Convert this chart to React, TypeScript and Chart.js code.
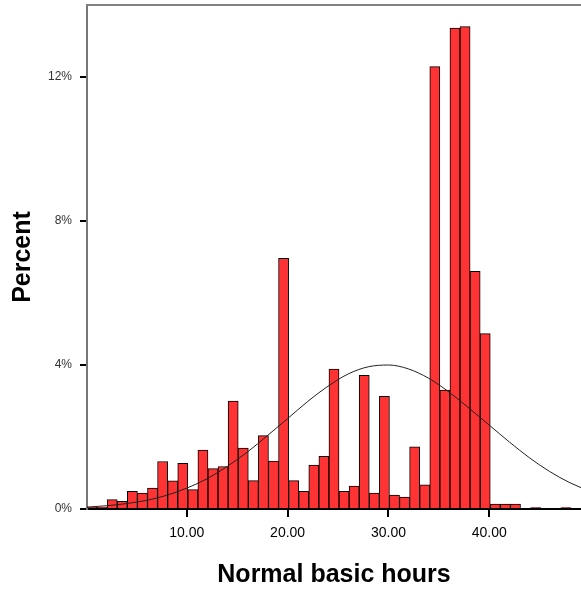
import React, { useEffect, useRef } from "react";
import { Chart, registerables } from "chart.js";

Chart.register(...registerables);

// Histogram bins (bin centres, hours) and their percentages
const binHours = [
  0.6, 1.6, 2.6, 3.6, 4.6, 5.6, 6.6, 7.6, 8.6, 9.6,
  10.6, 11.6, 12.6, 13.6, 14.6, 15.6, 16.6, 17.6, 18.6, 19.6,
  20.6, 21.6, 22.6, 23.6, 24.6, 25.6, 26.6, 27.6, 28.6, 29.6,
  30.6, 31.6, 32.6, 33.6, 34.6, 35.6, 36.6, 37.6, 38.6, 39.6,
  40.6, 41.6, 42.6, 43.6, 44.6, 45.6, 46.6, 47.6, 48.6,
];
const binPercent = [
  0.05, 0.05, 0.26, 0.21, 0.49, 0.44, 0.58, 1.32, 0.78, 1.27,
  0.54, 1.64, 1.12, 1.18, 3.0, 1.69, 0.79, 2.04, 1.33, 6.96,
  0.79, 0.49, 1.22, 1.46, 3.89, 0.49, 0.64, 3.71, 0.44, 3.13,
  0.39, 0.33, 1.73, 0.67, 12.29, 3.3, 13.36, 13.4, 6.6, 4.87,
  0.14, 0.14, 0.14, 0, 0.04, 0, 0, 0.04, 0,
];

// Normal curve
const curveHours = [0, 2, 4, 6, 8, 10, 12, 14, 16, 18, 20, 22, 24, 26, 28, 30, 32, 34, 36, 38, 40, 42, 44, 46, 48, 50];
const curvePercent = [
  0.05, 0.09, 0.15, 0.24, 0.38, 0.58, 0.84, 1.18, 1.58, 2.04,
  2.51, 2.99, 3.41, 3.75, 3.95, 4.0, 3.89, 3.63, 3.25, 2.8,
  2.33, 1.86, 1.42, 1.04, 0.73, 0.49,
];

const xTicks = [10, 20, 30, 40];
const yTicks = [0, 4, 8, 12];

const topBorder = {
  id: "topBorder",
  afterDraw(chart: any) {
    const { ctx, chartArea } = chart;
    ctx.save();
    ctx.strokeStyle = "#808080";
    ctx.lineWidth = 2;
    ctx.beginPath();
    ctx.moveTo(chartArea.left - 1, chartArea.top);
    ctx.lineTo(chartArea.right, chartArea.top);
    ctx.stroke();
    ctx.restore();
  },
};

export default function App() {
  const ref = useRef<HTMLCanvasElement | null>(null);

  useEffect(() => {
    if (!ref.current) return;
    const chart = new Chart(ref.current, {
      type: "bar",
      data: {
        datasets: [
          {
            type: "line",
            data: curveHours.map((h, i) => ({ x: h, y: curvePercent[i] })),
            borderColor: "#222222",
            borderWidth: 1,
            pointRadius: 0,
            cubicInterpolationMode: "monotone",
            fill: false,
            order: 0,
          } as any,
          {
            type: "bar",
            data: binHours.map((h, i) => ({ x: h, y: binPercent[i] })),
            backgroundColor: "#FF3333",
            borderColor: "#000000",
            borderWidth: 1,
            barPercentage: 1,
            categoryPercentage: 1,
            order: 1,
          } as any,
        ],
      },
      options: {
        responsive: false,
        animation: false,
        devicePixelRatio: 1,
        layout: { padding: { top: 5, right: 0, left: 0, bottom: 0 } },
        plugins: { legend: { display: false }, tooltip: { enabled: false } },
        scales: {
          x: {
            type: "linear",
            min: 0.1,
            max: 49.1,
            offset: false,
            afterBuildTicks: (s: any) => {
              s.ticks = xTicks.map((v) => ({ value: v }));
            },
            afterFit: (s: any) => {
              s.height = 80;
              s.paddingLeft = 0;
              s.paddingRight = 0;
            },
            grid: {
              offset: false,
              drawOnChartArea: false,
              drawTicks: true,
              tickLength: 8,
              color: "#000000",
              lineWidth: 2,
            },
            border: { display: true, color: "#000000", width: 2 },
            ticks: {
              color: "#000000",
              padding: 8,
              maxRotation: 0,
              autoSkip: false,
              font: { family: "Arial, 'Liberation Sans', sans-serif", size: 14 },
              callback: (v: any) => Number(v).toFixed(2),
            },
            title: {
              display: true,
              text: "Normal basic hours",
              color: "#000000",
              font: { family: "Arial, 'Liberation Sans', sans-serif", size: 25, weight: "bold", lineHeight: 1 },
              padding: { top: 0, bottom: 1.5 },
            },
          },
          y: {
            type: "linear",
            min: 0,
            max: 14,
            afterBuildTicks: (s: any) => {
              s.ticks = yTicks.map((v) => ({ value: v }));
            },
            afterFit: (s: any) => {
              s.width = 87;
              s.paddingTop = 0;
              s.paddingBottom = 0;
            },
            grid: {
              drawOnChartArea: false,
              drawTicks: true,
              tickLength: 7,
              color: "#000000",
              lineWidth: 2,
            },
            border: { display: true, color: "#777777", width: 2 },
            ticks: {
              color: "#333333",
              padding: 8,
              font: { family: "Arial, 'Liberation Sans', sans-serif", size: 12 },
              callback: (v: any) => v + "%",
            },
            title: {
              display: true,
              text: "Percent",
              color: "#000000",
              font: { family: "Arial, 'Liberation Sans', sans-serif", size: 25, weight: "bold", lineHeight: 1 },
              padding: { top: 10.5, bottom: 0 },
            },
          },
        },
      },
      plugins: [topBorder],
    } as any);
    return () => chart.destroy();
  }, []);

  return (
    <div style={{ position: "absolute", left: 0, top: 0, width: 581, height: 589, background: "#ffffff" }}>
      <canvas ref={ref} width={581} height={589} style={{ width: 581, height: 589, display: "block" }} />
    </div>
  );
}
